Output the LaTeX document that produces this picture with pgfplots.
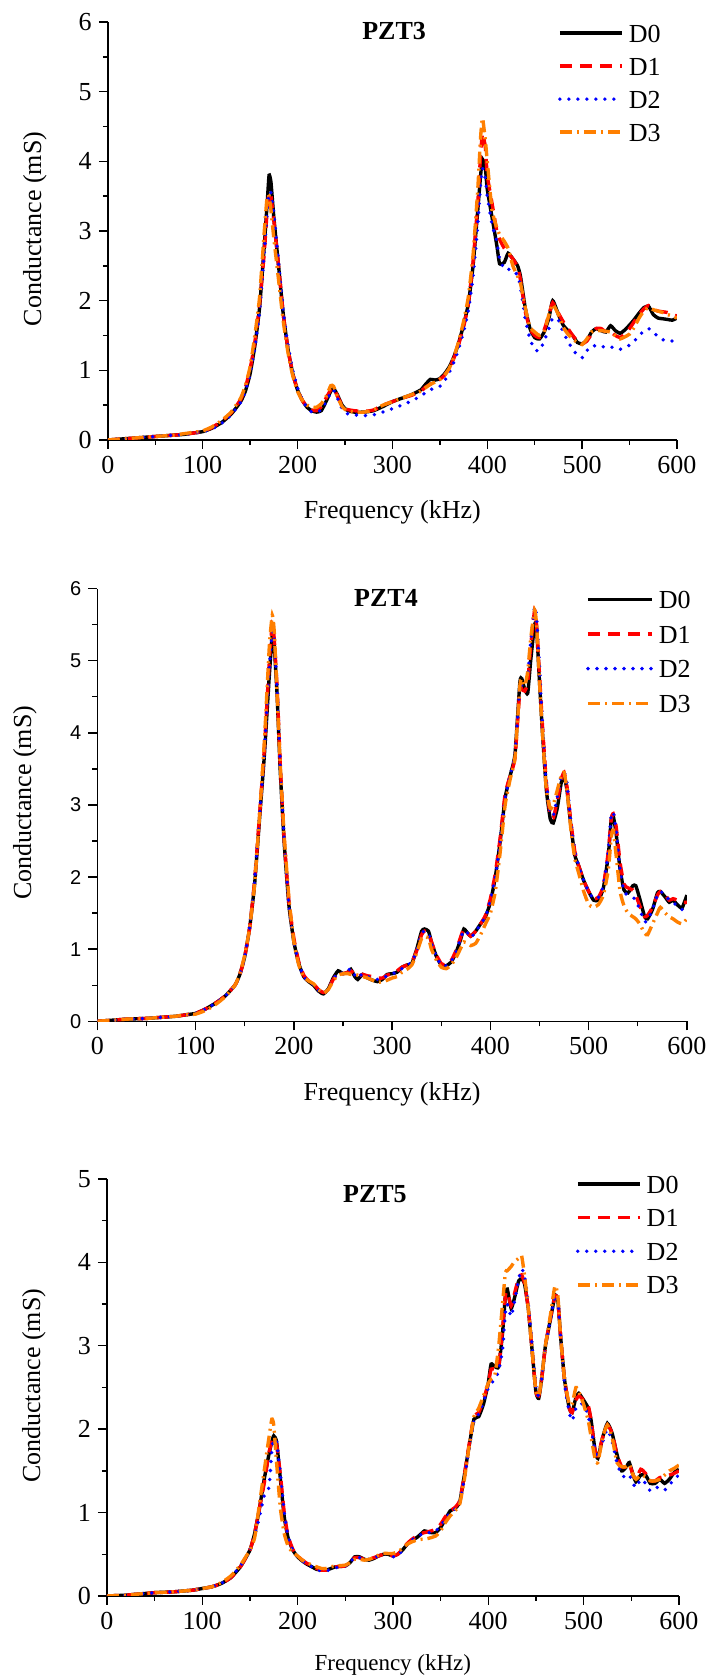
\documentclass[border=0pt]{standalone}
\usepackage{fontspec}
\setmainfont{Liberation Serif}
\newfontfamily\timesfont{Liberation Serif}
\newfontfamily\arialfont{Liberation Sans}
\usepackage{pgfplots}
\usepackage{pgfplotstable}
\pgfplotsset{compat=1.18}
\definecolor{dorange}{RGB}{255,127,0}

\pgfplotstableread{
x d0 d1 d2 d3
0 0 0 0 0
10 0.01 0.01 0.01 0.01
20 0.02 0.02 0.02 0.02
30 0.03 0.03 0.03 0.03
40 0.04 0.04 0.04 0.04
50 0.05 0.05 0.05 0.05
60 0.06 0.06 0.06 0.06
70 0.07 0.07 0.07 0.07
80 0.08 0.08 0.08 0.09
90 0.10 0.10 0.10 0.11
100 0.12 0.12 0.12 0.13
110 0.17 0.18 0.16 0.19
120 0.25 0.27 0.24 0.28
130 0.37 0.39 0.36 0.40
140 0.55 0.58 0.54 0.60
145 0.70 0.75 0.70 0.78
150 0.95 1.02 0.95 1.05
155 1.35 1.40 1.32 1.50
160 1.90 1.95 1.85 2.05
165 2.80 2.70 2.70 3.00
168 3.40 3.30 3.30 3.50
170 3.80 3.55 3.55 3.50
172 3.70 3.50 3.55 3.30
175 3.20 3.15 3.25 2.90
180 2.50 2.50 2.55 2.30
185 1.80 1.80 1.85 1.70
190 1.30 1.30 1.35 1.25
195 0.95 0.95 1.00 0.92
200 0.72 0.72 0.75 0.70
205 0.57 0.57 0.58 0.57
210 0.47 0.48 0.46 0.50
215 0.42 0.43 0.40 0.47
220 0.40 0.42 0.40 0.47
225 0.42 0.48 0.43 0.52
230 0.55 0.60 0.55 0.62
235 0.70 0.72 0.68 0.78
238 0.74 0.75 0.72 0.77
242 0.65 0.63 0.60 0.62
247 0.50 0.50 0.45 0.48
252 0.43 0.44 0.38 0.42
260 0.40 0.42 0.36 0.40
270 0.40 0.41 0.35 0.40
280 0.42 0.43 0.36 0.43
290 0.48 0.50 0.40 0.50
300 0.55 0.55 0.45 0.55
310 0.60 0.60 0.50 0.60
320 0.65 0.64 0.56 0.65
330 0.72 0.70 0.63 0.70
335 0.80 0.76 0.68 0.75
340 0.87 0.80 0.72 0.80
345 0.86 0.84 0.75 0.83
350 0.88 0.87 0.77 0.87
355 0.95 0.93 0.85 0.93
360 1.05 1.03 0.97 1.03
365 1.20 1.18 1.12 1.20
370 1.40 1.38 1.32 1.42
375 1.65 1.62 1.55 1.70
380 1.95 1.95 1.85 2.05
385 2.50 2.55 2.35 2.65
390 3.30 3.40 3.10 3.60
393 3.80 4.10 3.70 4.35
395 4.03 4.40 3.90 4.62
398 3.90 4.20 3.75 4.30
400 3.60 3.80 3.50 4.00
405 3.20 3.40 3.10 3.30
410 2.80 3.00 2.85 3.05
413 2.53 2.88 2.60 2.95
418 2.55 2.75 2.45 2.85
422 2.68 2.68 2.45 2.75
427 2.60 2.60 2.44 2.50
432 2.50 2.48 2.36 2.35
435 2.35 2.30 2.20 2.25
440 1.90 1.85 1.75 1.90
445 1.60 1.60 1.45 1.62
450 1.47 1.50 1.30 1.55
455 1.45 1.47 1.28 1.50
460 1.55 1.58 1.42 1.55
465 1.75 1.80 1.60 1.80
469 2.00 1.97 1.75 1.95
475 1.80 1.82 1.72 1.80
480 1.65 1.70 1.55 1.62
485 1.57 1.60 1.42 1.52
490 1.50 1.50 1.30 1.45
495 1.40 1.42 1.22 1.40
500 1.38 1.38 1.18 1.37
505 1.43 1.42 1.28 1.45
510 1.55 1.52 1.35 1.55
515 1.60 1.60 1.35 1.57
520 1.57 1.60 1.33 1.57
525 1.55 1.55 1.35 1.56
530 1.64 1.55 1.34 1.55
535 1.57 1.50 1.31 1.50
540 1.53 1.47 1.30 1.45
545 1.58 1.52 1.33 1.48
550 1.65 1.60 1.36 1.52
555 1.73 1.70 1.42 1.62
560 1.82 1.80 1.50 1.75
565 1.90 1.88 1.56 1.85
570 1.92 1.93 1.60 1.90
575 1.80 1.88 1.55 1.87
580 1.75 1.85 1.48 1.85
585 1.74 1.84 1.44 1.83
590 1.73 1.83 1.42 1.80
595 1.72 1.80 1.42 1.78
600 1.75 1.78 1.42 1.75
}\pztthree

\pgfplotstableread{
x d0 d1 d2 d3
0 0 0 0 0
10 0.01 0.01 0.01 0.01
20 0.02 0.02 0.02 0.02
30 0.03 0.03 0.03 0.03
40 0.035 0.035 0.035 0.035
50 0.04 0.04 0.04 0.04
60 0.05 0.05 0.05 0.05
70 0.06 0.06 0.06 0.06
80 0.07 0.07 0.07 0.07
90 0.09 0.09 0.09 0.09
100 0.11 0.11 0.11 0.10
110 0.17 0.17 0.17 0.15
120 0.25 0.25 0.25 0.23
130 0.35 0.35 0.35 0.34
140 0.50 0.50 0.50 0.50
145 0.65 0.65 0.65 0.66
150 0.90 0.90 0.90 0.92
155 1.30 1.30 1.32 1.30
160 1.90 1.95 1.95 1.90
165 2.80 2.85 2.85 2.85
170 3.70 3.80 3.75 3.90
175 4.80 5.00 4.90 5.20
178 5.35 5.50 5.40 5.63
180 5.20 5.30 5.30 5.40
183 4.50 4.60 4.60 4.50
186 3.50 3.60 3.60 3.60
190 2.50 2.55 2.55 2.60
195 1.60 1.65 1.60 1.70
200 1.10 1.15 1.10 1.10
205 0.80 0.82 0.80 0.78
210 0.62 0.64 0.62 0.62
215 0.55 0.56 0.55 0.56
220 0.50 0.52 0.51 0.52
225 0.42 0.44 0.43 0.44
230 0.38 0.40 0.38 0.39
235 0.45 0.45 0.45 0.44
240 0.60 0.58 0.58 0.56
245 0.70 0.67 0.68 0.64
250 0.66 0.66 0.66 0.66
255 0.68 0.68 0.70 0.66
258 0.72 0.70 0.73 0.65
262 0.62 0.65 0.64 0.65
265 0.58 0.62 0.60 0.64
270 0.65 0.65 0.66 0.62
275 0.60 0.63 0.62 0.60
280 0.57 0.62 0.60 0.57
285 0.55 0.60 0.58 0.54
290 0.58 0.60 0.60 0.55
295 0.65 0.64 0.63 0.57
300 0.66 0.66 0.65 0.60
305 0.68 0.70 0.70 0.62
310 0.75 0.75 0.73 0.68
315 0.78 0.78 0.78 0.72
320 0.80 0.82 0.82 0.78
325 1.00 0.98 0.98 0.95
330 1.25 1.20 1.22 1.15
333 1.28 1.25 1.25 1.18
337 1.25 1.22 1.22 1.15
340 1.10 1.10 1.08 1.00
345 0.90 0.92 0.90 0.85
350 0.78 0.80 0.78 0.75
355 0.77 0.78 0.77 0.73
360 0.82 0.84 0.83 0.78
365 0.95 0.98 0.96 0.88
370 1.15 1.18 1.16 1.02
373 1.28 1.28 1.26 1.10
377 1.22 1.22 1.22 1.08
380 1.18 1.18 1.16 1.05
385 1.25 1.25 1.24 1.08
390 1.35 1.35 1.35 1.20
395 1.45 1.47 1.45 1.35
400 1.65 1.70 1.68 1.50
405 2.00 2.05 2.00 1.80
410 2.50 2.55 2.50 2.35
415 3.10 3.15 3.10 3.00
420 3.40 3.40 3.40 3.35
425 3.70 3.65 3.70 3.65
430 4.70 4.60 4.65 4.65
432 4.75 4.60 4.65 4.75
435 4.60 4.58 4.65 4.65
438 4.55 4.70 4.80 4.85
441 5.00 5.20 5.25 5.30
445 5.50 5.70 5.75 5.70
447 5.45 5.50 5.60 5.50
450 4.70 4.80 4.90 4.70
453 4.00 4.10 4.10 4.00
457 3.20 3.30 3.30 3.20
461 2.80 2.85 2.90 2.95
464 2.75 2.82 2.85 3.00
468 2.95 3.05 3.10 3.20
472 3.30 3.35 3.40 3.40
475 3.40 3.45 3.45 3.45
478 3.20 3.25 3.30 3.20
482 2.70 2.75 2.75 2.65
486 2.30 2.35 2.35 2.25
490 2.15 2.15 2.15 2.05
495 1.95 1.95 1.95 1.80
500 1.80 1.80 1.80 1.62
505 1.68 1.70 1.70 1.58
510 1.68 1.72 1.72 1.62
515 1.85 1.88 1.88 1.75
520 2.30 2.35 2.35 2.10
523 2.80 2.80 2.85 2.55
525 2.85 2.88 2.90 2.65
528 2.60 2.70 2.65 2.30
532 2.10 2.20 2.10 1.80
536 1.82 1.90 1.80 1.60
540 1.78 1.85 1.75 1.50
545 1.88 1.82 1.72 1.45
548 1.88 1.75 1.68 1.42
552 1.70 1.60 1.55 1.35
557 1.45 1.45 1.38 1.22
560 1.42 1.47 1.40 1.20
565 1.55 1.58 1.55 1.35
570 1.78 1.75 1.75 1.50
573 1.80 1.80 1.80 1.58
578 1.72 1.75 1.75 1.50
582 1.65 1.68 1.68 1.45
586 1.68 1.70 1.65 1.42
590 1.62 1.68 1.60 1.38
595 1.57 1.65 1.55 1.35
600 1.75 1.65 1.60 1.42
}\pztfour

\pgfplotstableread{
x d0 d1 d2 d3
0 0 0 0 0
10 0.005 0.005 0.005 0.005
20 0.01 0.01 0.01 0.01
30 0.02 0.02 0.02 0.02
40 0.03 0.03 0.03 0.03
50 0.04 0.04 0.04 0.04
60 0.045 0.045 0.045 0.045
70 0.05 0.05 0.05 0.05
80 0.06 0.06 0.06 0.06
90 0.07 0.07 0.07 0.07
100 0.09 0.09 0.09 0.09
110 0.11 0.11 0.11 0.11
120 0.15 0.15 0.15 0.16
130 0.22 0.22 0.23 0.24
140 0.35 0.35 0.36 0.37
150 0.55 0.55 0.55 0.55
155 0.75 0.75 0.72 0.70
160 1.05 1.05 0.95 1.10
165 1.40 1.35 1.20 1.50
170 1.70 1.72 1.30 1.90
173 1.85 1.85 1.75 2.12
175 1.92 1.90 1.88 2.05
178 1.85 1.82 1.85 1.60
182 1.40 1.45 1.45 1.05
186 0.95 1.00 1.00 0.75
190 0.70 0.72 0.72 0.60
195 0.55 0.56 0.55 0.52
200 0.47 0.48 0.47 0.48
205 0.42 0.43 0.42 0.43
210 0.38 0.39 0.38 0.40
215 0.35 0.36 0.35 0.37
220 0.32 0.33 0.32 0.35
225 0.31 0.31 0.30 0.33
230 0.31 0.31 0.30 0.33
235 0.33 0.33 0.32 0.35
240 0.35 0.35 0.34 0.36
250 0.36 0.36 0.36 0.37
255 0.40 0.40 0.40 0.40
260 0.47 0.46 0.47 0.44
265 0.47 0.46 0.46 0.44
270 0.44 0.44 0.44 0.43
275 0.43 0.44 0.44 0.44
280 0.45 0.46 0.46 0.46
285 0.48 0.48 0.48 0.49
290 0.50 0.50 0.51 0.51
295 0.50 0.50 0.50 0.51
300 0.48 0.48 0.47 0.51
305 0.50 0.50 0.48 0.53
310 0.55 0.56 0.55 0.57
315 0.62 0.63 0.62 0.62
320 0.67 0.68 0.67 0.65
325 0.70 0.72 0.71 0.67
330 0.75 0.75 0.74 0.68
333 0.78 0.76 0.76 0.68
337 0.77 0.77 0.76 0.69
340 0.76 0.78 0.76 0.70
345 0.76 0.80 0.78 0.72
350 0.82 0.86 0.84 0.78
355 0.92 0.95 0.92 0.88
360 1.02 1.02 1.00 0.96
365 1.05 1.06 1.04 1.02
370 1.12 1.14 1.12 1.10
375 1.45 1.45 1.42 1.40
380 1.80 1.82 1.78 1.80
385 2.12 2.15 2.10 2.15
390 2.15 2.20 2.18 2.25
395 2.30 2.35 2.32 2.40
400 2.55 2.55 2.50 2.55
403 2.78 2.72 2.55 2.60
407 2.75 2.72 2.60 2.65
411 2.75 2.75 2.70 3.00
415 3.15 3.20 2.95 3.50
418 3.60 3.60 3.40 3.88
420 3.68 3.65 3.50 3.90
424 3.45 3.48 3.35 3.95
427 3.55 3.60 3.50 4.00
432 3.78 3.82 3.80 4.05
435 3.80 3.85 3.92 4.08
438 3.75 3.75 3.85 3.85
442 3.45 3.45 3.50 3.45
446 2.95 2.95 3.00 2.95
450 2.45 2.45 2.50 2.45
453 2.37 2.40 2.40 2.40
456 2.60 2.60 2.60 2.60
460 3.00 3.00 3.00 3.00
465 3.30 3.32 3.30 3.35
470 3.60 3.60 3.60 3.72
473 3.55 3.55 3.55 3.60
476 3.10 3.10 3.10 3.10
480 2.60 2.60 2.55 2.60
485 2.25 2.25 2.20 2.30
488 2.20 2.20 2.10 2.30
492 2.38 2.35 2.25 2.50
495 2.43 2.40 2.30 2.45
500 2.35 2.35 2.30 2.30
505 2.25 2.28 2.15 2.10
508 2.10 2.10 2.00 1.90
512 1.75 1.75 1.75 1.65
515 1.65 1.68 1.68 1.60
520 1.90 1.90 1.85 1.90
525 2.07 2.05 2.00 2.05
530 1.95 1.95 1.85 1.90
535 1.70 1.70 1.60 1.60
540 1.50 1.55 1.45 1.55
545 1.55 1.55 1.42 1.55
548 1.60 1.58 1.45 1.58
552 1.45 1.45 1.35 1.45
555 1.37 1.40 1.30 1.40
560 1.45 1.52 1.40 1.45
565 1.45 1.47 1.35 1.43
570 1.35 1.38 1.26 1.38
575 1.35 1.38 1.30 1.38
580 1.40 1.42 1.30 1.40
585 1.35 1.43 1.27 1.45
590 1.40 1.45 1.33 1.50
595 1.48 1.47 1.40 1.53
600 1.52 1.50 1.45 1.57
}\pztfive

\pgfplotsset{
  legend image code/.code={\draw[#1] (0pt,0pt) -- (31pt,0pt);},
}
\pgfplotsset{
  pztbase/.style={
    scale only axis,
    axis lines=left,
    axis line style={-, line width=0.7pt},
    xmin=0, xmax=600, xtick={0,100,...,600},
    minor x tick num=1, minor y tick num=1,
    tick align=outside,
    major tick length=4.5pt, minor tick length=2.5pt,
    every tick/.style={black, line width=0.7pt},
    tick label style={font=\timesfont\fontsize{13}{13}\selectfont},
    /pgf/number format/assume math mode=true,
    label style={font=\timesfont\fontsize{13}{13}\selectfont},
    xlabel={Frequency (kHz)},
    ylabel={Conductance (mS)},
    legend cell align=left,
    legend style={draw=none, fill=none, inner sep=0pt, outer sep=0pt,
      font=\timesfont\fontsize{13}{13}\selectfont, anchor=west, row sep=7.5pt, column sep=2.5pt,
      nodes={inner sep=0pt, text height=9pt, text depth=0pt}},
  },
  sD0/.style={black, line width=1.7pt, smooth, tension=0.3},
  sD1/.style={red, line width=1.7pt, dash pattern=on 6pt off 4pt, smooth, tension=0.3},
  sD2/.style={blue, line width=1.9pt, line cap=round, dash pattern=on 0pt off 4.5pt, smooth, tension=0.3},
  sD3/.style={dorange, line width=1.7pt, dash pattern=on 6pt off 2.5pt on 1pt off 2.5pt, smooth, tension=0.3},
}

\begin{document}
\begin{tikzpicture}
\useasboundingbox (0,0) rectangle (355pt,840pt);

% PZT3
\begin{axis}[pztbase,
  at={(53.9pt,620pt)}, anchor=south west,
  width=284.6pt, height=209pt,
  ymin=0, ymax=6, ytick={0,1,...,6},
  xlabel style={at={(axis description cs:0.5,-0.172)}, anchor=center},
  ylabel style={at={(axis description cs:-0.128,0.505)}, anchor=center},
  legend style={at={(0.791,0.855)}},
]
\addplot[sD0] table[x=x,y=d0] {\pztthree};
\addplot[sD1] table[x=x,y=d1] {\pztthree};
\addplot[sD2] table[x=x,y=d2] {\pztthree};
\addplot[sD3] table[x=x,y=d3] {\pztthree};
\legend{D0,D1,D2,D3}
\node[font=\timesfont\bfseries\fontsize{13}{13}\selectfont] at (axis description cs:0.503,0.9775) {PZT3};
\end{axis}

% PZT4
\begin{axis}[pztbase,
  at={(48.7pt,329.35pt)}, anchor=south west,
  width=294.75pt, height=216.35pt,
  ymin=0, ymax=6, ytick={0,1,...,6},
  yticklabel style={font=\arialfont\fontsize{10}{10}\selectfont},
  xlabel style={at={(axis description cs:0.5,-0.168)}, anchor=center},
  ylabel style={at={(axis description cs:-0.123,0.505)}, anchor=center},
  legend style={at={(0.829,0.855)}, row sep=8.3pt},
  legend image code/.code={\draw[#1] (0pt,0pt) -- (32pt,0pt);},
]
\addplot[sD0] table[x=x,y=d0] {\pztfour};
\addplot[sD1] table[x=x,y=d1] {\pztfour};
\addplot[sD2] table[x=x,y=d2] {\pztfour};
\addplot[sD3] table[x=x,y=d3] {\pztfour};
\legend{D0,D1,D2,D3}
\node[font=\timesfont\bfseries\fontsize{13}{13}\selectfont] at (axis description cs:0.4896,0.978) {PZT4};
\end{axis}

% PZT5
\begin{axis}[pztbase,
  at={(53.45pt,42pt)}, anchor=south west,
  width=286pt, height=208.5pt,
  ymin=0, ymax=5, ytick={0,1,...,5},
  xlabel style={at={(axis description cs:0.5,-0.165)}, anchor=center, font=\timesfont\fontsize{11.5}{11.5}\selectfont},
  ylabel style={at={(axis description cs:-0.1275,0.504)}, anchor=center},
  legend style={at={(0.820,0.867)}, row sep=7.8pt},
]
\addplot[sD0] table[x=x,y=d0] {\pztfive};
\addplot[sD1] table[x=x,y=d1] {\pztfive};
\addplot[sD2] table[x=x,y=d2] {\pztfive};
\addplot[sD3] table[x=x,y=d3] {\pztfive};
\legend{D0,D1,D2,D3}
\node[font=\timesfont\bfseries\fontsize{13}{13}\selectfont] at (axis description cs:0.4686,0.964) {PZT5};
\end{axis}
\end{tikzpicture}
\end{document}
